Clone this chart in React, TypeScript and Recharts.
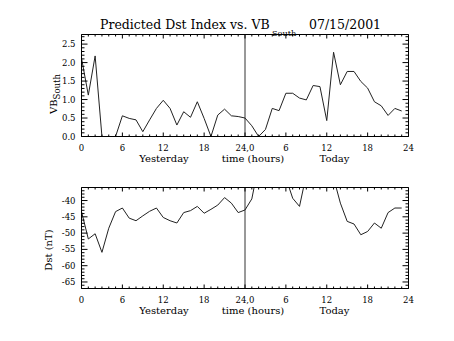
import React from 'react';
import { LineChart, Line, XAxis, YAxis, ReferenceLine } from 'recharts';

const hours = [0, 1, 2, 3, 4, 5, 6, 7, 8, 9, 10, 11, 12, 13, 14, 15, 16, 17, 18, 19, 20, 21, 22, 23,
  24, 25, 26, 27, 28, 29, 30, 31, 32, 33, 34, 35, 36, 37, 38, 39, 40, 41, 42, 43, 44, 45, 46, 47];

const vbSouth = [2.12, 1.12, 2.18, 0, 0, 0, 0.56, 0.49, 0.45, 0.13, 0.45, 0.76, 0.98, 0.76, 0.31, 0.67,
  0.52, 0.94, 0.49, 0, 0.58, 0.74, 0.56, 0.54, 0.5, 0.29, 0, 0.19, 0.76, 0.7, 1.17, 1.17,
  1.04, 0.99, 1.38, 1.35, 0.43, 2.28, 1.4, 1.76, 1.76, 1.49, 1.31, 0.94, 0.83, 0.57, 0.76, 0.69];

const dst = [-43.4, -51.8, -50.2, -55.9, -48.5, -43.4, -42.3, -45.4, -46.2, -44.7, -43.3, -42.3, -45.2,
  -46.2, -46.9, -43.7, -43.1, -41.8, -43.9, -42.7, -41.4, -39.1, -40.8, -43.7, -42.9, -39.5,
  -29, -25, -24, -27, -33, -39.3, -41.8, -32, -26, -24, -27, -33, -40.8, -46.4, -47.2, -50.5,
  -49.5, -46.9, -48.5, -43.7, -42.3, -42.3];

const xMajorTicks = [0, 6, 12, 18, 24, 30, 36, 42, 48];
const xMajorLabels = ['0', '6', '12', '18', '24,0', '6', '12', '18', '24'];
const xAllTicks = [0, 1, 2, 3, 4, 5, 6, 7, 8, 9, 10, 11, 12, 13, 14, 15, 16, 17, 18, 19, 20, 21, 22, 23,
  24, 25, 26, 27, 28, 29, 30, 31, 32, 33, 34, 35, 36, 37, 38, 39, 40, 41, 42, 43, 44, 45, 46, 47, 48];

const vbMajorTicks = [0, 0.5, 1, 1.5, 2, 2.5];
const vbMajorLabels = ['0.0', '0.5', '1.0', '1.5', '2.0', '2.5'];
const vbAllTicks = [0, 0.1, 0.2, 0.3, 0.4, 0.5, 0.6, 0.7, 0.8, 0.9, 1.0, 1.1, 1.2, 1.3, 1.4, 1.5,
  1.6, 1.7, 1.8, 1.9, 2.0, 2.1, 2.2, 2.3, 2.4, 2.5, 2.6, 2.7];

const dstMajorTicks = [-65, -60, -55, -50, -45, -40];
const dstMajorLabels = ['-65', '-60', '-55', '-50', '-45', '-40'];
const dstAllTicks = [-67, -66, -65, -64, -63, -62, -61, -60, -59, -58, -57, -56, -55, -54, -53, -52,
  -51, -50, -49, -48, -47, -46, -45, -44, -43, -42, -41, -40, -39, -38, -37];

const FONT = 'DejaVu Serif';
const INK = '#000';
const W = 454;
const PLOT_LEFT = 81.5;
const PLOT_RIGHT = 408.5;

type Side = 'bottom' | 'top' | 'left' | 'right';

function makeTick(side: Side, majors: number[], labels: string[] | null, majorLen: number, minorLen: number) {
  return (props: any) => {
    const { x, y, payload } = props;
    const v = payload.value as number;
    const idx = majors.findIndex((t) => Math.abs(t - v) < 1e-9);
    const len = idx >= 0 ? majorLen : minorLen;
    let x2 = x;
    let y2 = y;
    if (side === 'bottom') y2 = y - len;
    if (side === 'top') y2 = y + len;
    if (side === 'left') x2 = x + len;
    if (side === 'right') x2 = x - len;
    let label: React.ReactNode = null;
    if (labels && idx >= 0) {
      if (side === 'bottom') {
        label = (
          <text x={x} y={y + 14.2} textAnchor="middle" fontSize={8.5} fontFamily={FONT} fill={INK}>
            {labels[idx]}
          </text>
        );
      } else if (side === 'left') {
        label = (
          <text x={x - 6} y={y} dy="0.355em" textAnchor="end" fontSize={8.5} fontFamily={FONT} fill={INK}>
            {labels[idx]}
          </text>
        );
      }
    }
    return (
      <g>
        <line x1={x} y1={y} x2={x2} y2={y2} stroke={INK} strokeWidth={1} />
        {label}
      </g>
    );
  };
}

type PanelProps = {
  top: number;
  height: number;
  plotTop: number;
  plotBottom: number;
  data: { hour: number; v: number }[];
  yDomain: [number, number];
  yMajor: number[];
  yLabels: string[];
  yAll: number[];
};

function Panel({ top, height, plotTop, plotBottom, data, yDomain, yMajor, yLabels, yAll }: PanelProps) {
  const lineStyle = { stroke: INK, strokeWidth: 1 };
  const xCommon = { type: 'number' as const, domain: [0, 48] as [number, number], allowDataOverflow: true, interval: 0 as const, dataKey: 'hour' };
  const yCommon = { type: 'number' as const, domain: yDomain, allowDataOverflow: true, interval: 0 as const };
  return (
    <div style={{ position: 'absolute', left: 0, top }}>
      <LineChart
        width={W}
        height={height}
        data={data}
        margin={{ top: plotTop, right: W - PLOT_RIGHT, bottom: 0, left: 0 }}
      >
        <XAxis
          xAxisId="main"
          {...xCommon}
          ticks={xAllTicks}
          tick={makeTick('bottom', xMajorTicks, xMajorLabels, 4, 2)}
          tickLine={false}
          tickSize={0}
          tickMargin={0}
          height={height - plotBottom}
          axisLine={lineStyle}
        />
        <XAxis
          xAxisId="top"
          orientation="top"
          mirror
          {...xCommon}
          ticks={xAllTicks}
          tick={makeTick('top', xMajorTicks, null, 4, 2)}
          tickLine={false}
          tickSize={0}
          tickMargin={0}
          height={0.01}
          axisLine={lineStyle}
        />
        <YAxis
          yAxisId="main"
          {...yCommon}
          ticks={yAll}
          tick={makeTick('left', yMajor, yLabels, 6, 3)}
          tickLine={false}
          tickSize={0}
          tickMargin={0}
          width={PLOT_LEFT}
          axisLine={lineStyle}
        />
        <YAxis
          yAxisId="right"
          orientation="right"
          mirror
          {...yCommon}
          ticks={yAll}
          tick={makeTick('right', yMajor, null, 6, 3)}
          tickLine={false}
          tickSize={0}
          tickMargin={0}
          width={0.01}
          axisLine={lineStyle}
        />
        <ReferenceLine xAxisId="main" yAxisId="main" x={24} stroke="#333" strokeWidth={1} />
        <Line
          xAxisId="top"
          yAxisId="right"
          dataKey="v"
          type="linear"
          stroke="none"
          dot={false}
          activeDot={false}
          legendType="none"
          isAnimationActive={false}
        />
        <Line
          xAxisId="main"
          yAxisId="main"
          dataKey="v"
          type="linear"
          stroke="#222"
          strokeWidth={1}
          dot={false}
          activeDot={false}
          isAnimationActive={false}
        />
      </LineChart>
    </div>
  );
}

export default function App() {
  const vbData = hours.map((h, i) => ({ hour: h, v: vbSouth[i] }));
  const dstData = hours.map((h, i) => ({ hour: h, v: dst[i] }));
  const txt = { fontFamily: FONT, fill: INK };
  return (
    <div style={{ position: 'absolute', left: 0, top: 0, width: W, height: 341, background: '#fff' }}>
      <Panel
        top={0}
        height={170}
        plotTop={34.5}
        plotBottom={136.5}
        data={vbData}
        yDomain={[0, 2.76]}
        yMajor={vbMajorTicks}
        yLabels={vbMajorLabels}
        yAll={vbAllTicks}
      />
      <Panel
        top={170}
        height={171}
        plotTop={17.5}
        plotBottom={118.5}
        data={dstData}
        yDomain={[-67, -36]}
        yMajor={dstMajorTicks}
        yLabels={dstMajorLabels}
        yAll={dstAllTicks}
      />
      <svg width={W} height={341} style={{ position: 'absolute', left: 0, top: 0, pointerEvents: 'none' }}>
        <text x={100} y={29} fontSize={12.5} {...txt}>Predicted Dst Index vs. VB</text>
        <text x={272} y={36} fontSize={8.2} {...txt}>South</text>
        <text x={309} y={29} fontSize={12.5} {...txt}>07/15/2001</text>

        <text transform="translate(57,114) rotate(-90)" fontSize={10} {...txt}>
          VB<tspan fontSize={8.5} dy={3}>South</tspan>
        </text>
        <text transform="translate(52,250) rotate(-90)" fontSize={10} textAnchor="middle" {...txt}>Dst (nT)</text>

        <text x={164} y={161.7} fontSize={10} textAnchor="middle" {...txt}>Yesterday</text>
        <text x={253} y={161.7} fontSize={10} textAnchor="middle" {...txt}>time (hours)</text>
        <text x={334.5} y={161.7} fontSize={10} textAnchor="middle" {...txt}>Today</text>

        <text x={164} y={314} fontSize={10} textAnchor="middle" {...txt}>Yesterday</text>
        <text x={253} y={314} fontSize={10} textAnchor="middle" {...txt}>time (hours)</text>
        <text x={334.5} y={314} fontSize={10} textAnchor="middle" {...txt}>Today</text>
      </svg>
    </div>
  );
}
